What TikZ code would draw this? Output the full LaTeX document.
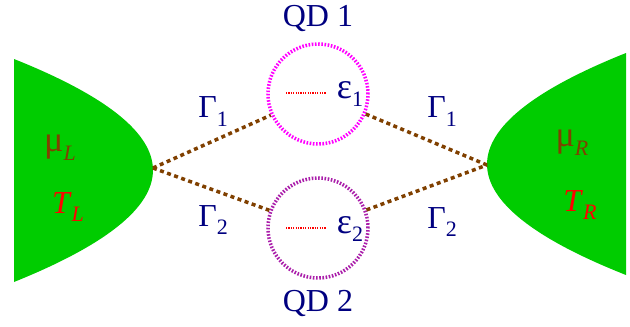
\documentclass[tikz,border=0pt]{standalone}
\usepackage{fontspec}
\setmainfont{Liberation Serif}
\usepackage{xcolor}
\usetikzlibrary{positioning,calc}
\definecolor{leadgreen}{RGB}{0,204,0}
\definecolor{linkbrown}{RGB}{128,64,0}
\definecolor{dotnavy}{RGB}{0,0,128}
\definecolor{qdmagenta}{RGB}{255,0,255}
\definecolor{qdpurple}{RGB}{170,30,170}
\newcommand{\lowsub}[1]{\raisebox{-0.28em}{\fontsize{22}{22}\selectfont #1}}
\newcommand{\bigsym}[1]{{\fontsize{36}{36}\selectfont #1}}

\begin{document}
\begin{tikzpicture}[
  x=1pt,y=-1pt,
  font=\fontsize{32}{36}\selectfont,
  lbl/.style={inner sep=0pt,text=dotnavy},
  qd/.style={circle,minimum size=100pt,inner sep=0pt,line width=3.5pt,dash pattern=on 1.6pt off 1.6pt},
  link/.style={draw=linkbrown,line width=3.5pt,dash pattern=on 4pt off 3.5pt},
  level/.style={draw=red,line width=1.6pt,dash pattern=on 1.2pt off 1.2pt},
]
\useasboundingbox (0,0) rectangle (630,327);
% leads
\fill[leadgreen] (14,59) .. controls (199.3,133) and (199.3,207.3) .. (14,282) -- cycle;
\fill[leadgreen] (626,53) .. controls (440.7,127) and (440.7,201.7) .. (626,275) -- cycle;
\coordinate (tipL) at (153,168);
\coordinate (tipR) at (487,165);
\node[inner sep=0pt,text=linkbrown] (muL) at (60,148) {\bigsym{μ}\lowsub{\textit{L}}};
\node[inner sep=0pt,text=red] (TL) at (68,207) {\textit{T}\lowsub{\textit{L}}};
\node[inner sep=0pt,text=linkbrown] (muR) at (572,143) {\bigsym{μ}\lowsub{\textit{R}}};
\node[inner sep=0pt,text=red] (TR) at (580,205) {\textit{T}\lowsub{\textit{R}}};
% dots
\node[qd,draw=qdmagenta] (qd1) at (318,94) {};
\node[qd,draw=qdpurple] (qd2) at (318,228) {};
\node[lbl] (qd1lbl) at (318,18) {QD 1};
\node[lbl] (qd2lbl) at (318,303) {QD 2};
\node[lbl] (eps1) at (350,94) {\bigsym{ε}\lowsub{1}};
\node[lbl] (eps2) at (350,229) {\bigsym{ε}\lowsub{2}};
\coordinate (lev1) at (286,93);
\coordinate (lev2) at (286,228);
\draw[level] (lev1) -- ++(40,0);
\draw[level] (lev2) -- ++(40,0);
% tunnel couplings
\draw[link] (tipL) -- (qd1);
\draw[link] (tipL) -- (qd2);
\draw[link] (qd1) -- (tipR);
\draw[link] (qd2) -- (tipR);
\node[lbl] (g1L) at (213,112) {Γ\lowsub{1}};
\node[lbl] (g2L) at (213,220) {Γ\lowsub{2}};
\node[lbl] (g1R) at (442,112) {Γ\lowsub{1}};
\node[lbl] (g2R) at (442,222) {Γ\lowsub{2}};
\end{tikzpicture}
\end{document}
